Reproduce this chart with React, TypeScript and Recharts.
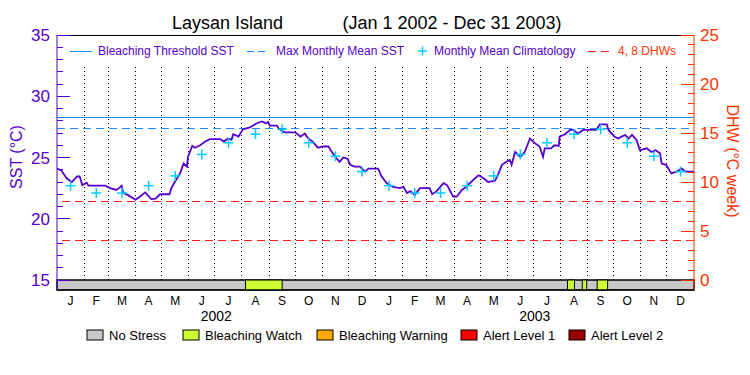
import {
  ComposedChart,
  Line,
  Scatter,
  XAxis,
  YAxis,
  ReferenceLine,
  ReferenceArea,
} from "recharts"

const PURPLE = "#5500cc"
const ORANGE = "#ff3300"
const BLUE = "#1a8cff"
const CYAN = "#00ccff"
const RED = "#ff1a1a"

// calendar
const monthLetters = ["J", "F", "M", "A", "M", "J", "J", "A", "S", "O", "N", "D"]
const monthLengths = [31, 28, 31, 30, 31, 30, 31, 31, 30, 31, 30, 31]
const years = ["2002", "2003"]

// SST (day since Jan 1 2002, deg C)
const sstDays = [
  0, 5, 11, 17, 23, 26, 29, 34, 36, 55, 61, 68, 71, 74, 76, 81, 90, 95, 101, 108,
  113, 118, 129, 131, 135, 141, 145, 149, 150, 155, 158, 164, 170, 175, 187, 191,
  196, 200, 202, 208, 213, 221, 229, 235, 239, 242, 244, 252, 254, 261, 273, 279,
  284, 288, 293, 299, 305, 311, 315, 320, 324, 328, 333, 336, 341, 347, 353, 357,
  364, 368, 372, 378, 385, 393, 397, 401, 405, 410, 416, 427, 430, 435, 443, 447,
  454, 458, 464, 469, 473, 479, 483, 489, 494, 502, 506, 510, 515, 519, 521, 525,
  531, 536, 542, 548, 553, 557, 559, 566, 570, 575, 576, 582, 588, 592, 597, 603,
  618, 622, 630, 632, 639, 643, 651, 655, 659, 664, 668, 676, 681, 686, 691, 693,
  698, 704, 710, 716, 720, 729, 730,
]
const sstValues = [
  24.1, 23.95, 23.3, 23.0, 23.45, 23.45, 22.75, 22.95, 22.7, 22.7, 22.5, 22.35, 22.5,
  22.7, 22.1, 21.95, 21.55, 21.8, 22.15, 21.6, 21.65, 22.0, 22.0, 22.5, 23.0, 23.7,
  24.5, 24.25, 25.05, 25.95, 25.8, 26.0, 26.3, 26.5, 26.5, 26.3, 26.55, 26.45, 26.9,
  26.7, 27.3, 27.45, 27.8, 27.95, 27.8, 27.9, 27.6, 27.6, 27.35, 27.05, 27.05, 26.7,
  26.95, 26.55, 26.3, 25.8, 25.9, 25.9, 25.45, 24.95, 24.65, 25.0, 24.9, 24.4, 24.25,
  24.25, 23.85, 24.1, 24.1, 24.1, 23.45, 22.9, 22.6, 22.5, 22.6, 22.1, 22.25, 21.95,
  22.5, 22.5, 22.0, 22.25, 22.9, 22.75, 21.8, 21.8, 22.35, 22.6, 22.9, 23.3, 23.55,
  23.3, 23.0, 23.1, 23.7, 24.4, 24.65, 24.8, 24.4, 25.45, 25.05, 25.45, 26.55, 26.15,
  25.9, 25.05, 25.75, 25.75, 26.0, 25.95, 26.7, 26.9, 27.25, 27.25, 26.95, 27.25,
  27.25, 27.7, 27.7, 27.25, 26.7, 26.55, 26.85, 26.55, 26.85, 26.45, 25.6, 25.75,
  25.45, 25.6, 25.35, 24.5, 24.4, 23.7, 23.85, 24.1, 23.85, 23.85, 23.7,
]

// monthly mean climatology, Jan..Dec
const climValues = [22.7, 22.1, 22.1, 22.7, 23.5, 25.25, 26.2, 26.9, 27.3, 26.2, 25.1, 23.85]

const bleachingThreshold = 28.3
const maxMonthlyMean = 27.33
const dhwLevels = [4, 8]

const statusNames = ["No Stress", "Bleaching Watch", "Bleaching Warning", "Alert Level 1", "Alert Level 2"]
const statusColors = ["#c8c8c8", "#ccff33", "#ffaa00", "#ff0000", "#990000"]
const watchStart = [216, 585, 602, 619]
const watchEnd = [258, 593, 607, 631]

// layout: status bar sits below SST 15 / DHW 0
const BAR_SST = 10 / 12.25
const sstDomain = [15 - BAR_SST, 35]
const dhwDomain = [-(BAR_SST / 20) * 25, 25]
const gridTop = 32.5

const monthStarts: number[] = []
let acc = 0
years.forEach(() =>
  monthLengths.forEach((len) => {
    monthStarts.push(acc)
    acc += len
  })
)
const totalDays = acc
const monthMids = monthStarts.map((s, i) => s + monthLengths[i % 12] / 2)
const yearMids = years.map((_, i) => {
  const start = monthStarts[i * 12]
  const end = i + 1 < years.length ? monthStarts[(i + 1) * 12] : totalDays
  return (start + end) / 2
})

const sstData = sstDays.map((d, i) => ({ day: d, sst: sstValues[i] }))
const climData = monthMids.map((d, i) => ({ day: d, clim: climValues[i % 12] }))

const sstTicks = Array.from({ length: 21 }, (_, i) => 15 + i)
const dhwTicks = Array.from({ length: 26 }, (_, i) => i)

function LeftTick(props: any) {
  const { x, y, payload } = props
  const major = payload.value % 5 === 0
  return (
    <g>
      <line x1={x} x2={x + (major ? 13 : 6)} y1={y} y2={y} stroke={PURPLE} shapeRendering="crispEdges" />
      {major && (
        <text x={x - 7} y={y + 6} textAnchor="end" fill={PURPLE} fontSize={17}>
          {payload.value}
        </text>
      )}
    </g>
  )
}

function RightTick(props: any) {
  const { x, y, payload } = props
  const major = payload.value % 5 === 0
  return (
    <g>
      <line x1={x} x2={x - (major ? 13 : 6)} y1={y} y2={y} stroke={ORANGE} shapeRendering="crispEdges" />
      {major && (
        <text x={x + 6} y={y + 6} textAnchor="start" fill={ORANGE} fontSize={17}>
          {payload.value}
        </text>
      )}
    </g>
  )
}

function Cross(props: any) {
  const { cx, cy } = props
  return (
    <g>
      <line x1={cx - 5} x2={cx + 5} y1={cy} y2={cy} stroke={CYAN} strokeWidth={1.5} />
      <line x1={cx} x2={cx} y1={cy - 5} y2={cy + 5} stroke={CYAN} strokeWidth={1.5} />
    </g>
  )
}

function Overlay() {
  const legendX = [87, 183, 317, 461, 569]
  return (
    <svg width={750} height={375} style={{ position: "absolute", left: 0, top: 0, pointerEvents: "none" }}>
      <text x={227.5} y={29} fontSize={18} textAnchor="middle" fill="#000">
        Laysan Island
      </text>
      <text x={452} y={29} fontSize={18} textAnchor="middle" fill="#000">
        (Jan 1 2002 - Dec 31 2003)
      </text>

      <line x1={70} x2={92} y1={51.5} y2={51.5} stroke={BLUE} />
      <text x={98} y={55} fontSize={12} fill={PURPLE}>Bleaching Threshold SST</text>
      <line x1={247} x2={265} y1={51.5} y2={51.5} stroke={BLUE} strokeDasharray="7 4" />
      <text x={276} y={55} fontSize={12} fill={PURPLE}>Max Monthly Mean SST</text>
      <line x1={418} x2={427} y1={51} y2={51} stroke={CYAN} strokeWidth={1.5} />
      <line x1={422.5} x2={422.5} y1={46.5} y2={55.5} stroke={CYAN} strokeWidth={1.5} />
      <text x={434} y={55} fontSize={12} fill={PURPLE}>Monthly Mean Climatology</text>
      <line x1={588} x2={612} y1={51.5} y2={51.5} stroke={RED} strokeDasharray="8 5" />
      <text x={618} y={55} fontSize={12} fill={ORANGE}>4, 8 DHWs</text>

      <text transform="translate(22,157) rotate(-90)" fontSize={16} textAnchor="middle" fill={PURPLE}>
        SST (°C)
      </text>
      <text transform="translate(727,161) rotate(90)" fontSize={16} textAnchor="middle" fill={ORANGE}>
        DHW (°C week)
      </text>

      {statusNames.map((name, i) => (
        <g key={name}>
          <rect x={legendX[i]} y={330} width={16} height={10} fill={statusColors[i]} stroke="#000" />
          <text x={legendX[i] + 22} y={340} fontSize={13} fill="#000">
            {name}
          </text>
        </g>
      ))}
    </svg>
  )
}

export default function App() {
  return (
    <div
      style={{
        position: "absolute",
        left: 0,
        top: 0,
        width: 750,
        height: 375,
        background: "#fff",
        fontFamily: "'Liberation Sans', Arial, sans-serif",
      }}
    >
      <ComposedChart width={750} height={375} margin={{ top: 35, right: 0, bottom: 44, left: 0 }}>
        <XAxis
          dataKey="day"
          type="number"
          domain={[0, totalDays]}
          ticks={monthMids}
          interval={0}
          tickFormatter={(_v, i) => monthLetters[i % 12]}
          tickSize={0}
          tickMargin={6}
          height={21}
          axisLine={{ stroke: "#000" }}
          tick={{ fill: "#000", fontSize: 12 }}
          allowDataOverflow
        />
        <XAxis
          xAxisId="year"
          dataKey="day"
          type="number"
          domain={[0, totalDays]}
          ticks={yearMids}
          interval={0}
          tickFormatter={(_v, i) => years[i]}
          tickSize={0}
          tickMargin={0}
          height={20}
          axisLine={false}
          tick={{ fill: "#000", fontSize: 14 }}
          allowDataOverflow
        />
        <YAxis
          yAxisId="sst"
          type="number"
          domain={sstDomain}
          ticks={sstTicks}
          interval={0}
          width={57}
          tickSize={0}
          tickMargin={0}
          tickLine={false}
          axisLine={{ stroke: PURPLE }}
          tick={<LeftTick />}
          allowDataOverflow
        />
        <YAxis
          yAxisId="dhw"
          orientation="right"
          type="number"
          domain={dhwDomain}
          ticks={dhwTicks}
          interval={0}
          width={56}
          tickSize={0}
          tickMargin={0}
          tickLine={false}
          axisLine={{ stroke: ORANGE }}
          tick={<RightTick />}
          allowDataOverflow
        />

        {monthStarts.slice(1).map((d) => (
          <ReferenceLine
            key={d}
            yAxisId="sst"
            segment={[
              { x: d, y: 15 },
              { x: d, y: gridTop },
            ]}
            stroke="#000"
            strokeDasharray="1 3"
            shapeRendering="crispEdges"
          />
        ))}

        <ReferenceLine yAxisId="sst" y={35} stroke="#000" shapeRendering="crispEdges" />
        <ReferenceLine yAxisId="sst" y={bleachingThreshold} stroke={BLUE} shapeRendering="crispEdges" />
        <ReferenceLine
          yAxisId="sst"
          y={maxMonthlyMean}
          stroke={BLUE}
          strokeDasharray="8 5"
          shapeRendering="crispEdges"
        />
        {dhwLevels.map((v) => (
          <ReferenceLine
            key={v}
            yAxisId="dhw"
            y={v}
            stroke={RED}
            strokeDasharray="8 5"
            shapeRendering="crispEdges"
          />
        ))}

        <ReferenceArea
          yAxisId="sst"
          x1={0}
          x2={totalDays}
          y1={sstDomain[0]}
          y2={15}
          fill={statusColors[0]}
          fillOpacity={1}
          stroke="#000"
          strokeWidth={1.5}
        />
        {watchStart.map((s, i) => (
          <ReferenceArea
            key={s}
            yAxisId="sst"
            x1={s}
            x2={watchEnd[i]}
            y1={sstDomain[0]}
            y2={15}
            fill={statusColors[1]}
            fillOpacity={1}
            stroke="#000"
            strokeWidth={1}
          />
        ))}

        <Line
          yAxisId="sst"
          data={sstData}
          dataKey="sst"
          type="linear"
          stroke={PURPLE}
          strokeWidth={1.8}
          dot={false}
          isAnimationActive={false}
        />
        <Scatter
          yAxisId="sst"
          data={climData}
          dataKey="clim"
          shape={<Cross />}
          isAnimationActive={false}
        />
      </ComposedChart>
      <Overlay />
    </div>
  )
}
